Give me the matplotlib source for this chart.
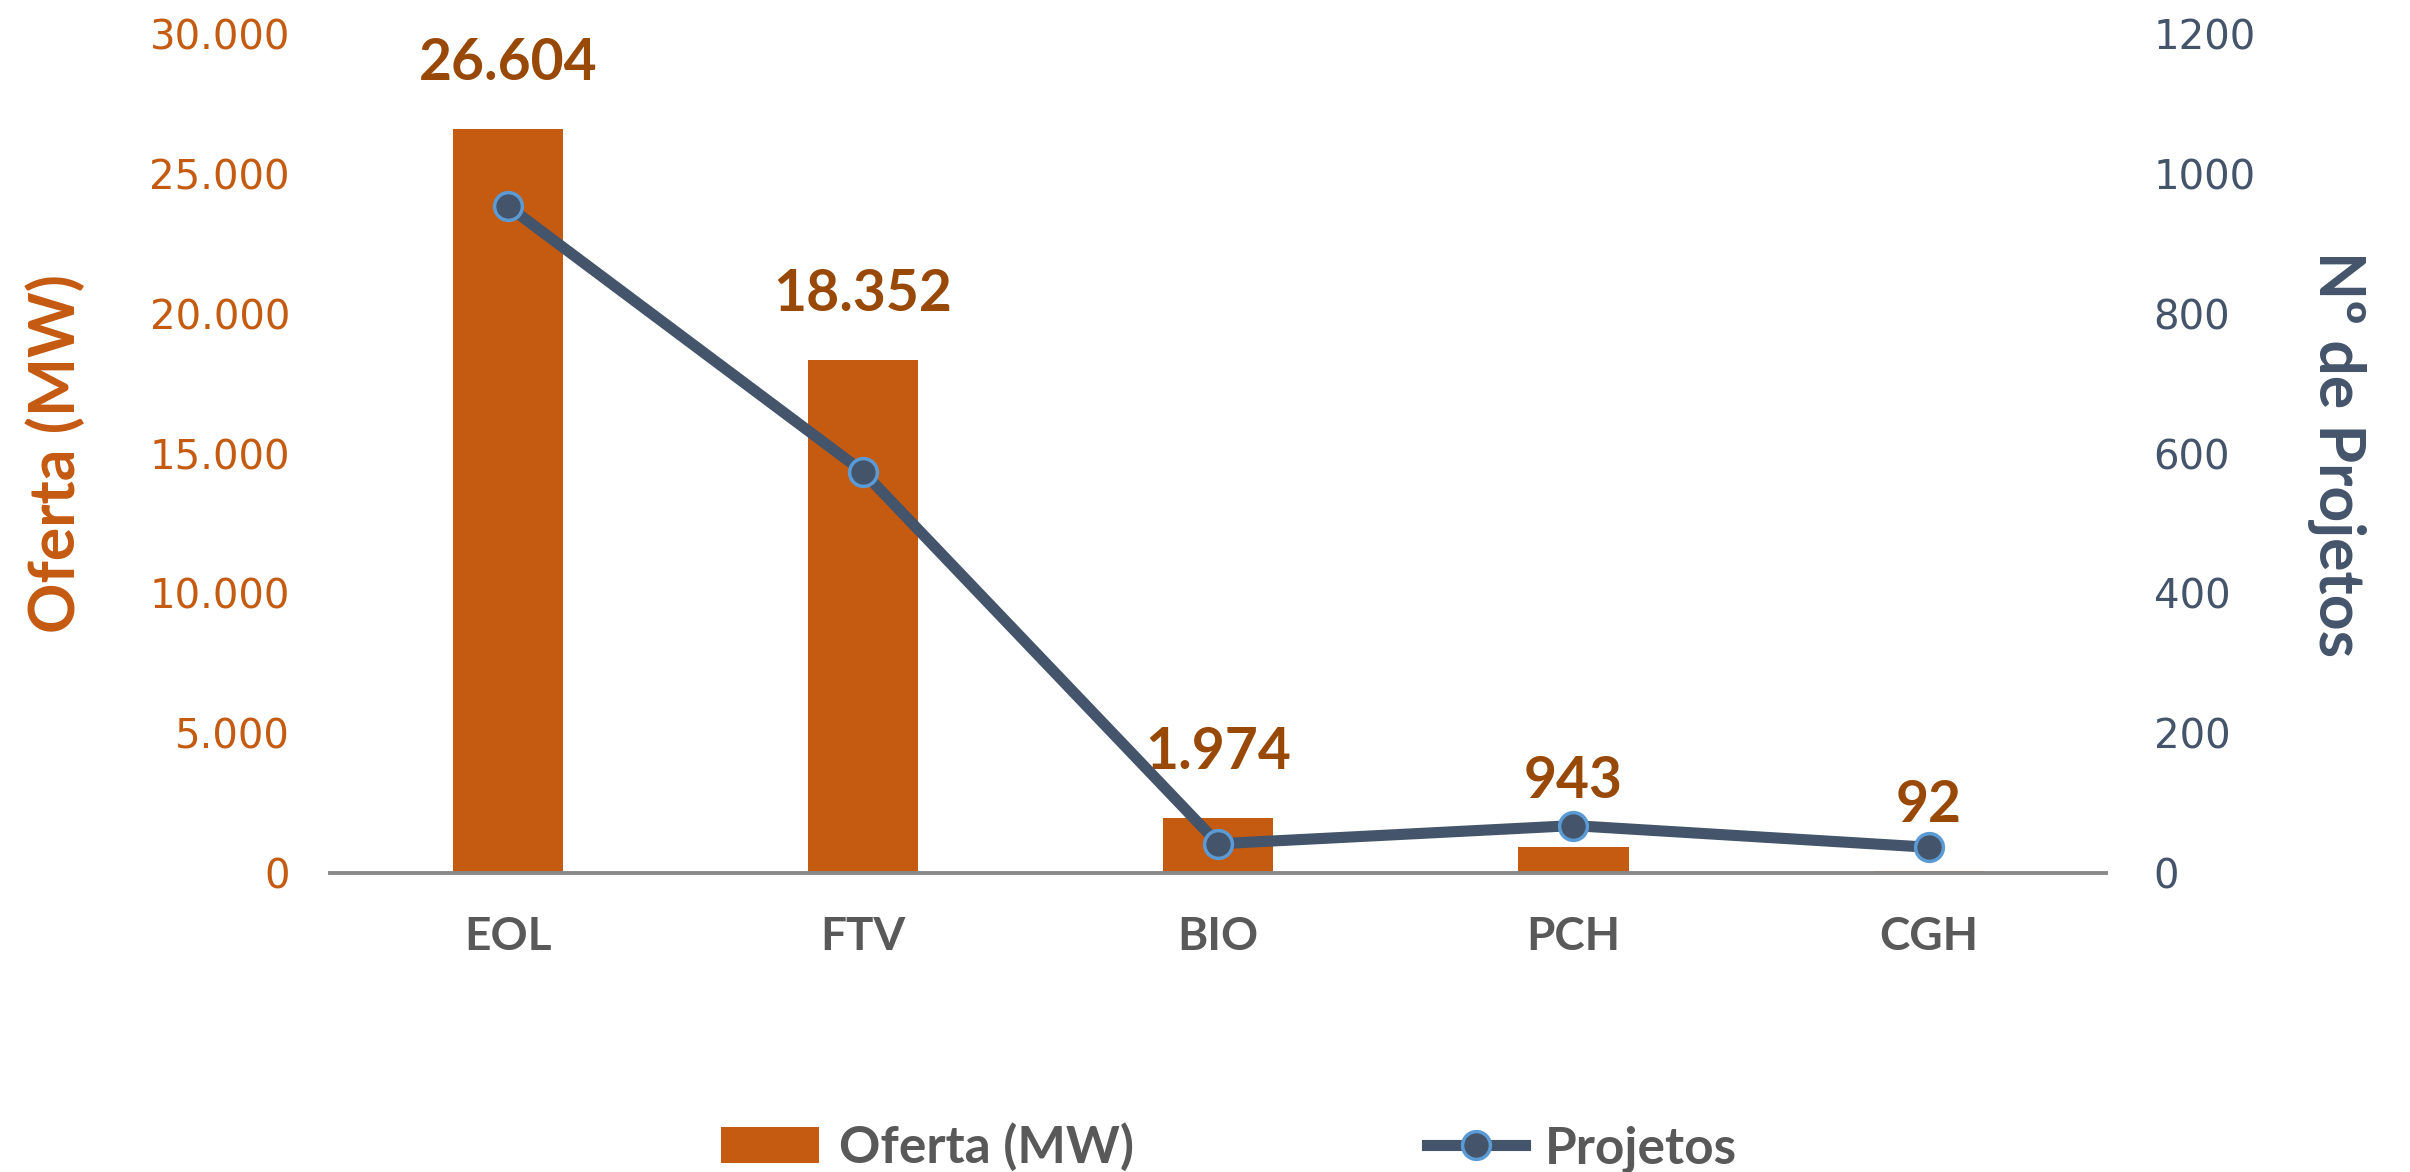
import numpy as np
import matplotlib
matplotlib.use("Agg")
import matplotlib.pyplot as plt
from matplotlib.ticker import FuncFormatter, MultipleLocator
from matplotlib.lines import Line2D
from matplotlib.patches import Patch

# dados
categorias = ["EOL", "FTV", "BIO", "PCH", "CGH"]
oferta_mw = [26604, 18352, 1974, 943, 92]
projetos = [954, 574, 42, 68, 37]

laranja = "#C55A11"
laranja_escuro = "#984807"
azul = "#44546A"
azul_claro = "#5B9BD5"
cinza = "#898989"
bold_font = ["Lato", "DejaVu Sans"]
tick_font = ["DejaVu Sans"]


def milhar(v, pos):
    return f"{int(v):,}".replace(",", ".")


fig = plt.figure(figsize=(24.1, 11.72), dpi=100)
ax = fig.add_axes([0.137, 0.255, 0.737, 0.716])
ax2 = ax.twinx()

x = np.arange(len(categorias))

# barras
ax.bar(x, oferta_mw, width=0.31, color=laranja, zorder=2)
for xi, v in zip(x, oferta_mw):
    ax.annotate(milhar(v, None), (xi, v), xytext=(0, 28), textcoords="offset points",
                ha="center", va="bottom", fontsize=41, fontweight="bold",
                color=laranja_escuro, family=bold_font)

ax.set_xlim(-0.5, len(categorias) - 0.5)
ax.set_ylim(0, 30000)
ax.yaxis.set_major_locator(MultipleLocator(5000))
ax.yaxis.set_major_formatter(FuncFormatter(milhar))
ax.set_xticks(x)
ax.set_xticklabels(categorias, fontsize=33, fontweight="bold", color="#595959", family=bold_font)
ax.tick_params(axis="x", length=0, pad=31)
ax.tick_params(axis="y", length=0, pad=29, labelsize=29, labelcolor=laranja)
for t in ax.get_yticklabels():
    t.set_family(tick_font)
ax.set_ylabel("Oferta (MW)", fontsize=45, fontweight="bold", color=laranja,
              family=bold_font, labelpad=46)

# linha
ax2.plot(x, projetos, color=azul, linewidth=8, marker="o", markersize=20,
         markerfacecolor=azul, markeredgecolor=azul_claro, markeredgewidth=2.5, zorder=3)
ax2.set_ylim(0, 1200)
ax2.yaxis.set_major_locator(MultipleLocator(200))
ax2.tick_params(axis="y", length=0, pad=34, labelsize=29, labelcolor=azul)
for t in ax2.get_yticklabels():
    t.set_family(tick_font)
ax2.set_ylabel("Nº de Projetos", fontsize=45, fontweight="bold", color=azul,
               family=bold_font, rotation=270, labelpad=80)

for a in (ax, ax2):
    for s in ("top", "left", "right"):
        a.spines[s].set_visible(False)
    a.spines["bottom"].set_color(cinza)
    a.spines["bottom"].set_linewidth(2.8)
ax2.spines["bottom"].set_visible(False)

# legenda
handles = [
    Patch(facecolor=laranja, edgecolor="none"),
    Line2D([0], [0], color=azul, linewidth=8, marker="o", markersize=20,
           markerfacecolor=azul, markeredgecolor=azul_claro, markeredgewidth=2.5),
]
fig.legend(handles, ["Oferta (MW)", "Projetos"], loc="lower center",
           bbox_to_anchor=(0.51, -0.04), ncol=2, frameon=False,
           prop={"family": bold_font, "size": 37, "weight": "bold"},
           labelcolor="#595959", handlelength=1.9, handletextpad=0.4,
           columnspacing=5.7)

fig.savefig("out.png", dpi=100)
